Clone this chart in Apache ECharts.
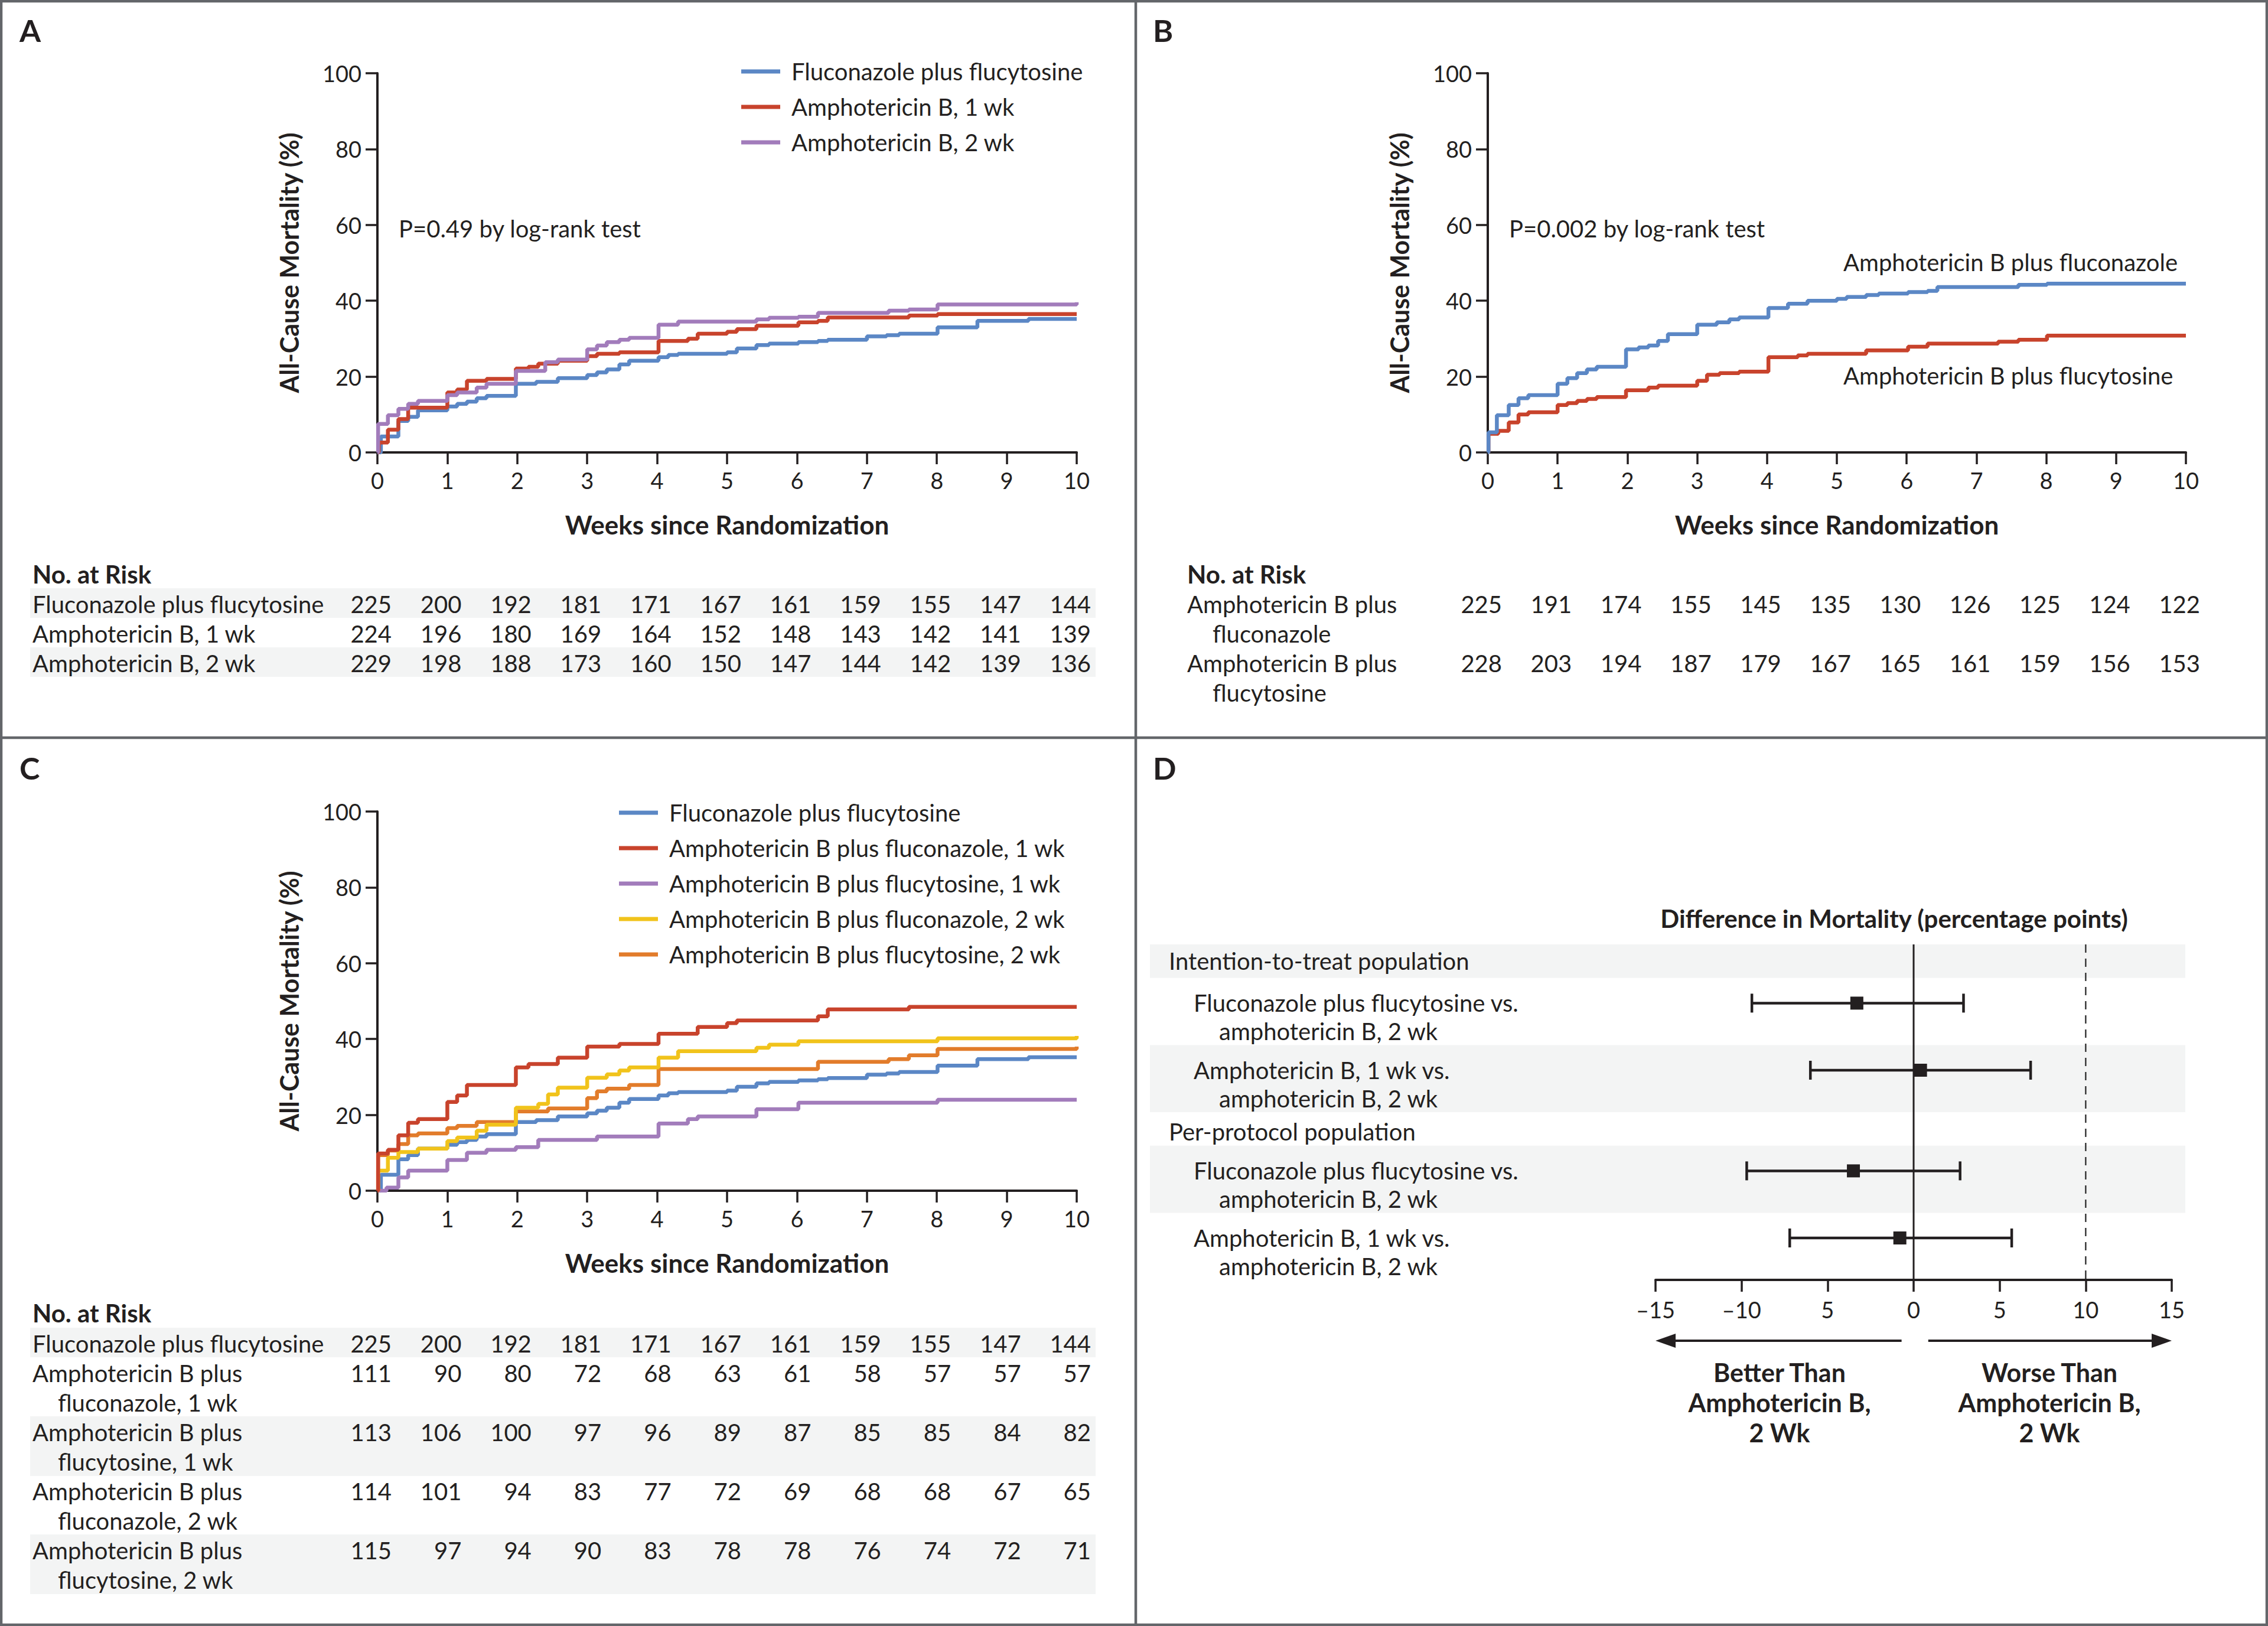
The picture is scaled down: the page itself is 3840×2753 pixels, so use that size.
<!DOCTYPE html>
<html>
<head>
<meta charset="utf-8">
<script src="https://cdn.jsdelivr.net/npm/echarts@6/dist/echarts.min.js"></script>
<style>
html, body { margin: 0; padding: 0; background: #fff; }
#chart { width: 3840px; height: 2753px; }
</style>
</head>
<body>
<div id="chart"></div>
<script>
// ---- data ----
const weekTicks = [0, 1, 2, 3, 4, 5, 6, 7, 8, 9, 10];

// panel A (and blue curve reused in C): [week, mortality %]
const aFluFlc = [[0,0],[0.05,4.2],[0.3,8.3],[0.44,9.4],[0.58,11.1],[1.0,12.1],[1.14,12.8],[1.28,13.4],[1.42,14.3],[1.56,14.9],[1.98,18.1],[2.27,18.6],[2.58,19.6],[3.0,20.4],[3.14,21.1],[3.28,21.9],[3.46,23.2],[3.6,24.2],[4.02,25.1],[4.16,25.7],[4.3,26.0],[5.0,26.4],[5.14,27.4],[5.42,28.3],[5.6,28.7],[6.02,29.1],[6.3,29.4],[6.44,29.7],[7.0,30.6],[7.28,30.9],[7.46,31.3],[8.01,33.0],[8.58,34.7],[9.31,35.2],[10,35.2]];
const aAmb1 = [[0,0],[0.02,2.6],[0.15,6.0],[0.3,8.8],[0.44,11.8],[1.0,15.8],[1.14,16.6],[1.28,18.9],[1.56,19.4],[1.98,22.1],[2.16,22.6],[2.3,23.4],[2.58,24.2],[3.0,25.4],[3.14,26.0],[3.46,26.4],[4.02,29.4],[4.44,30.0],[4.58,31.3],[5.0,31.8],[5.14,32.5],[5.42,33.4],[6.02,34.3],[6.3,34.7],[6.44,35.6],[7.6,36.1],[8.01,36.5],[10,36.5]];
const aAmb2 = [[0,0],[0.01,7.5],[0.15,9.8],[0.3,11.5],[0.44,12.8],[0.58,13.6],[1.0,15.1],[1.14,15.8],[1.42,17.1],[1.56,18.1],[1.98,21.5],[2.4,23.8],[2.58,24.5],[3.0,27.2],[3.14,28.2],[3.28,29.1],[3.46,29.7],[3.6,30.2],[4.02,33.7],[4.3,34.5],[5.42,35.1],[5.6,35.5],[6.02,35.8],[6.3,36.8],[7.31,37.4],[7.6,37.7],[8.01,39.0],[9.99,39.0],[10,39.6]];

// panel B
const bAmbFlu = [[0,0],[0.01,5.3],[0.13,9.8],[0.3,12.5],[0.44,14.3],[0.58,15.1],[1.0,18.1],[1.14,19.6],[1.28,20.9],[1.42,21.9],[1.56,22.6],[1.98,27.2],[2.16,27.7],[2.3,28.2],[2.44,29.4],[2.58,31.2],[3.0,33.7],[3.28,34.3],[3.46,35.1],[3.6,35.6],[4.02,38.1],[4.3,39.2],[4.58,40.0],[5.0,40.5],[5.14,41.0],[5.42,41.5],[5.6,41.9],[6.02,42.3],[6.3,42.6],[6.44,43.6],[7.6,44.2],[8.01,44.5],[10,44.5]];
const bAmbFlc = [[0,0],[0.01,4.9],[0.15,5.7],[0.3,7.9],[0.44,10.0],[0.58,10.6],[1.0,12.5],[1.14,13.0],[1.28,13.6],[1.42,14.1],[1.56,14.6],[1.98,16.4],[2.3,17.1],[2.44,17.6],[3.0,18.9],[3.14,20.5],[3.32,20.9],[3.6,21.3],[4.02,25.1],[4.44,25.6],[4.58,26.0],[5.42,26.9],[6.02,27.9],[6.3,28.7],[7.31,29.2],[7.6,29.7],[8.01,30.8],[10,30.8]];

// panel C
const cAmbFlu1 = [[0,0],[0.01,9.8],[0.15,10.8],[0.3,14.6],[0.44,17.9],[0.58,18.9],[1.0,23.4],[1.14,25.1],[1.28,27.9],[1.98,32.5],[2.16,33.4],[2.58,35.1],[3.0,38.0],[3.46,38.7],[4.02,41.4],[4.58,43.2],[5.0,44.2],[5.14,44.9],[6.3,46.0],[6.44,47.8],[7.6,48.5],[10,48.5]];
const cAmbFlc1 = [[0,0],[0.13,0.8],[0.3,3.5],[0.44,5.3],[1.0,8.1],[1.28,10.0],[1.56,10.8],[1.98,11.5],[2.3,13.4],[3.14,14.3],[4.02,17.7],[4.44,18.9],[4.58,19.6],[5.42,21.5],[6.02,23.2],[8.01,24.0],[10,24.0]];
const cAmbFlu2 = [[0,0],[0.01,5.3],[0.15,8.7],[0.3,10.2],[0.58,11.1],[1.0,13.1],[1.14,14.0],[1.42,15.8],[1.56,17.4],[1.98,21.9],[2.3,22.9],[2.44,25.4],[2.58,27.2],[3.0,29.8],[3.28,30.7],[3.46,31.7],[3.6,32.5],[4.02,35.1],[4.3,36.8],[5.42,37.7],[5.6,38.5],[6.02,39.4],[8.01,40.2],[9.99,40.2],[10,40.8]];
const cAmbFlc2 = [[0,0],[0.01,9.4],[0.15,10.6],[0.3,12.3],[0.44,14.6],[0.58,15.1],[1.0,16.5],[1.14,17.1],[1.42,18.1],[1.98,20.9],[2.44,21.7],[3.0,24.4],[3.14,26.2],[3.28,26.9],[3.6,27.9],[4.02,32.1],[6.3,34.0],[7.31,34.7],[7.6,35.7],[8.01,37.4],[9.99,37.4],[10,38.0]];

// numbers at risk
const aRiskNames = [['Fluconazole plus flucytosine'], ['Amphotericin B, 1 wk'], ['Amphotericin B, 2 wk']];
const aRisk = [
  [225,200,192,181,171,167,161,159,155,147,144],
  [224,196,180,169,164,152,148,143,142,141,139],
  [229,198,188,173,160,150,147,144,142,139,136]
];
const bRiskNames = [['Amphotericin B plus', 'fluconazole'], ['Amphotericin B plus', 'flucytosine']];
const bRisk = [
  [225,191,174,155,145,135,130,126,125,124,122],
  [228,203,194,187,179,167,165,161,159,156,153]
];
const cRiskNames = [
  ['Fluconazole plus flucytosine'],
  ['Amphotericin B plus', 'fluconazole, 1 wk'],
  ['Amphotericin B plus', 'flucytosine, 1 wk'],
  ['Amphotericin B plus', 'fluconazole, 2 wk'],
  ['Amphotericin B plus', 'flucytosine, 2 wk']
];
const cRisk = [
  [225,200,192,181,171,167,161,159,155,147,144],
  [111,90,80,72,68,63,61,58,57,57,57],
  [113,106,100,97,96,89,87,85,85,84,82],
  [114,101,94,83,77,72,69,68,68,67,65],
  [115,97,94,90,83,78,78,76,74,72,71]
];

// panel D: difference in mortality (percentage points)
const dLabels = [
  ['Fluconazole plus flucytosine vs.', 'amphotericin B, 2 wk'],
  ['Amphotericin B, 1 wk vs.', 'amphotericin B, 2 wk'],
  ['Fluconazole plus flucytosine vs.', 'amphotericin B, 2 wk'],
  ['Amphotericin B, 1 wk vs.', 'amphotericin B, 2 wk']
];
const dEst = [-3.3, 0.4, -3.5, -0.8];
const dLow = [-9.4, -6.0, -9.7, -7.2];
const dHigh = [2.9, 6.8, 2.7, 5.7];
const dRefLines = [0, 10];
const dTickLabels = ['\u201315', '\u201310', '5', '0', '5', '10', '15'];

// ---- styles ----
const ink = '#231f20';
const FONT = 'Lato, "Noto Sans", sans-serif';
const band = '#f3f4f4';
const clr = { blue: '#5b87c5', red: '#c8432c', purple: '#a27cbb', yellow: '#f1c31b', orange: '#e27c2b' };

function kmX(i) {
  return {
    gridIndex: i, type: 'value', min: 0, max: 10, interval: 1,
    name: 'Weeks since Randomization', nameLocation: 'middle', nameGap: 100,
    nameTextStyle: { fontSize: 44, fontWeight: 'bold', color: ink, fontFamily: FONT },
    axisLine: { show: true, onZero: false, lineStyle: { color: ink, width: 4 } },
    axisTick: { show: true, length: 20, lineStyle: { color: ink, width: 3.5 } },
    axisLabel: { fontSize: 38, color: ink, margin: 28, fontFamily: FONT },
    splitLine: { show: false }
  };
}
function kmY(i) {
  return {
    gridIndex: i, type: 'value', min: 0, max: 100, interval: 20,
    name: 'All-Cause Mortality (%)', nameLocation: 'middle', nameGap: 128, nameRotate: 90,
    nameTextStyle: { fontSize: 43, fontWeight: 'bold', color: ink, fontFamily: FONT },
    axisLine: { show: true, onZero: false, lineStyle: { color: ink, width: 4 } },
    axisTick: { show: true, length: 20, lineStyle: { color: ink, width: 3.5 } },
    axisLabel: { fontSize: 38, color: ink, margin: 27, fontFamily: FONT },
    splitLine: { show: false }
  };
}
function km(name, data, color, i) {
  return {
    type: 'line', name: name, data: data, step: 'end', xAxisIndex: i, yAxisIndex: i,
    symbol: 'none', showSymbol: false, silent: true,
    lineStyle: { color: color, width: 6.5 }, itemStyle: { color: color }
  };
}
function kmLegend(names, left, top) {
  return {
    data: names, orient: 'vertical', left: left, top: top, padding: 0,
    icon: 'rect', itemWidth: 66, itemHeight: 7, itemGap: 20, selectedMode: false,
    textStyle: { fontSize: 40, lineHeight: 40, color: ink, fontFamily: FONT, padding: [0, 0, 0, 14] }
  };
}

// forest rows: header rows take 1 unit, comparison rows 2 units
const dRowKinds = ['head', 'row', 'row', 'head', 'row', 'row'];
const dRowTop = [];
let acc = 0;
dRowKinds.forEach(k => { dRowTop.push(acc); acc += (k === 'head' ? 1 : 2); });
const dRowIdx = dRowKinds.map((k, i) => k === 'row' ? i : -1).filter(i => i >= 0);
const dMarkY = dRowIdx.map(i => dRowTop[i] + 0.75);

const chart = echarts.init(document.getElementById('chart'), null, { renderer: 'svg', width: 3840, height: 2753 });

chart.setOption({
  animation: false,
  backgroundColor: '#ffffff',
  textStyle: { fontFamily: FONT, color: ink },
  grid: [
    { left: 639, top: 124, width: 1184, height: 642, outerBoundsMode: 'none' },
    { left: 2519, top: 124, width: 1182, height: 642, outerBoundsMode: 'none' },
    { left: 639, top: 1374, width: 1184, height: 642, outerBoundsMode: 'none' },
    { left: 2803, top: 1599, width: 874, height: 568, outerBoundsMode: 'none' }
  ],
  xAxis: [kmX(0), kmX(1), kmX(2), {
    gridIndex: 3, type: 'value', min: -15, max: 15, interval: 5,
    axisLine: { show: true, onZero: false, lineStyle: { color: ink, width: 4 } },
    axisTick: { show: true, length: 20, lineStyle: { color: ink, width: 3.5 } },
    axisLabel: { fontSize: 38, color: ink, margin: 31, fontFamily: FONT,
      formatter: v => dTickLabels[Math.round((v + 15) / 5)] },
    splitLine: { show: false }
  }],
  yAxis: [kmY(0), kmY(1), kmY(2), {
    gridIndex: 3, type: 'value', min: 0, max: acc, inverse: true, show: false
  }],
  legend: [
    kmLegend(['Fluconazole plus flucytosine', 'Amphotericin B, 1 wk', 'Amphotericin B, 2 wk'], 1255, 101),
    kmLegend(['Fluconazole plus flucytosine', 'Amphotericin B plus fluconazole, 1 wk', 'Amphotericin B plus flucytosine, 1 wk',
      'Amphotericin B plus fluconazole, 2 wk', 'Amphotericin B plus flucytosine, 2 wk'], 1048, 1356)
  ],
  series: [
    km('Fluconazole plus flucytosine', aFluFlc, clr.blue, 0),
    km('Amphotericin B, 1 wk', aAmb1, clr.red, 0),
    km('Amphotericin B, 2 wk', aAmb2, clr.purple, 0),
    km('Amphotericin B plus flucytosine', bAmbFlc, clr.red, 1),
    km('Amphotericin B plus fluconazole', bAmbFlu, clr.blue, 1),
    km('Fluconazole plus flucytosine', aFluFlc, clr.blue, 2),
    km('Amphotericin B plus flucytosine, 1 wk', cAmbFlc1, clr.purple, 2),
    km('Amphotericin B plus flucytosine, 2 wk', cAmbFlc2, clr.orange, 2),
    km('Amphotericin B plus fluconazole, 2 wk', cAmbFlu2, clr.yellow, 2),
    km('Amphotericin B plus fluconazole, 1 wk', cAmbFlu1, clr.red, 2),
    {
      type: 'custom', xAxisIndex: 3, yAxisIndex: 3, silent: true, clip: false,
      data: dRefLines.map((v, i) => [v, i]),
      renderItem: function (params, api) {
        const p0 = api.coord([api.value(0), 0]);
        const p1 = api.coord([api.value(0), acc]);
        const dashed = api.value(1) > 0;
        return {
          type: 'line', shape: { x1: p0[0], y1: p0[1], x2: p1[0], y2: p1[1] },
          style: { stroke: dashed ? '#3a3a3a' : ink, lineWidth: dashed ? 2.5 : 3, lineDash: dashed ? [14, 10] : null }
        };
      }
    },
    {
      type: 'custom', xAxisIndex: 3, yAxisIndex: 3, silent: true, clip: false, z: 5,
      data: dEst.map((e, i) => [e, dLow[i], dHigh[i], dMarkY[i]]),
      renderItem: function (params, api) {
        const y = api.value(3);
        const lo = api.coord([api.value(1), y]);
        const hi = api.coord([api.value(2), y]);
        const m = api.coord([api.value(0), y]);
        const st = { stroke: ink, lineWidth: 4.5 };
        return {
          type: 'group', children: [
            { type: 'line', shape: { x1: lo[0], y1: lo[1], x2: hi[0], y2: hi[1] }, style: st },
            { type: 'line', shape: { x1: lo[0], y1: lo[1] - 16, x2: lo[0], y2: lo[1] + 16 }, style: st },
            { type: 'line', shape: { x1: hi[0], y1: hi[1] - 16, x2: hi[0], y2: hi[1] + 16 }, style: st },
            { type: 'rect', shape: { x: m[0] - 11, y: m[1] - 11, width: 22, height: 22 }, style: { fill: ink } }
          ]
        };
      }
    }
  ]
});

// ---- text, tables, bands and frame ----
const G = [];
function txt(x, y, s, o) {
  o = o || {};
  G.push({ type: 'text', x: x, y: y, z: 100, silent: true,
    style: { text: s, fill: ink, fontFamily: FONT, fontSize: o.size || 40,
      fontWeight: o.bold ? 'bold' : 'normal', align: o.align || 'left', verticalAlign: 'middle' } });
}
function box(x, y, w, h) {
  G.push({ type: 'rect', z: 0, silent: true, shape: { x: x, y: y, width: w, height: h }, style: { fill: band } });
}
const xPix = (ai, v) => chart.convertToPixel({ xAxisIndex: ai }, v);
const yPix = (ai, v) => chart.convertToPixel({ yAxisIndex: ai }, v);

// frame
G.push({ type: 'rect', z: 50, silent: true, shape: { x: 2, y: 2, width: 3836, height: 2749 }, style: { fill: 'none', stroke: '#63666a', lineWidth: 4.5 } });
G.push({ type: 'line', z: 50, silent: true, shape: { x1: 1923, y1: 0, x2: 1923, y2: 2753 }, style: { stroke: '#63666a', lineWidth: 4.5 } });
G.push({ type: 'line', z: 50, silent: true, shape: { x1: 0, y1: 1249, x2: 3840, y2: 1249 }, style: { stroke: '#63666a', lineWidth: 4.5 } });

// panel letters
txt(33, 51, 'A', { bold: true, size: 52 });
txt(1952, 51, 'B', { bold: true, size: 52 });
txt(33, 1300, 'C', { bold: true, size: 52 });
txt(1952, 1300, 'D', { bold: true, size: 52 });

// annotations
txt(675, 387, 'P=0.49 by log-rank test');
txt(2555, 387, 'P=0.002 by log-rank test');
txt(3121, 444, 'Amphotericin B plus fluconazole');
txt(3121, 636, 'Amphotericin B plus flucytosine');

// numbers-at-risk tables
function riskTable(ai, names, rows, headY, x1, x2, rowY, shaded) {
  txt(x1, headY, 'No. at Risk', { bold: true, size: 42 });
  names.forEach((lines, r) => {
    const y = rowY[r];
    if (shaded[r]) box(51, y - 27, 1804, lines.length > 1 ? 101 : 50);
    txt(x1, y, lines[0]);
    if (lines[1]) txt(x2, y + 50, lines[1]);
    rows[r].forEach((n, k) => txt(xPix(ai, weekTicks[k]) + 24, y, String(n), { align: 'right' }));
  });
}
riskTable(0, aRiskNames, aRisk, 972, 55, 98, [1023, 1073, 1123], [true, false, true]);
riskTable(1, bRiskNames, bRisk, 972, 2010, 2053, [1023, 1123], [false, false]);
riskTable(2, cRiskNames, cRisk, 2223, 55, 98, [2275, 2325, 2425, 2525, 2625], [true, false, true, false, true]);

// forest plot rows: shade every other band
dRowKinds.forEach((k, i) => {
  if (i % 2 === 0) {
    const t = yPix(3, dRowTop[i]);
    const b = yPix(3, dRowTop[i] + (k === 'head' ? 1 : 2));
    box(1947, t, 1753, b - t);
  }
});
txt(1979, yPix(3, dRowTop[0] + 0.5), 'Intention-to-treat population');
txt(1979, yPix(3, dRowTop[3] + 0.5) + 5, 'Per-protocol population');
dLabels.forEach((lines, i) => {
  const y = yPix(3, dMarkY[i]);
  txt(2021, y, lines[0]);
  txt(2064, y + 48, lines[1]);
});
txt(3207, 1555, 'Difference in Mortality (percentage points)', { bold: true, size: 42, align: 'center' });

// direction arrows
const ay = 2270;
function arrow(fromV, toV) {
  const a = xPix(3, fromV), b = xPix(3, toV);
  const dir = b > a ? 1 : -1;
  G.push({ type: 'line', z: 60, silent: true, shape: { x1: a, y1: ay, x2: b - dir * 20, y2: ay }, style: { stroke: ink, lineWidth: 4 } });
  G.push({ type: 'polygon', z: 60, silent: true, shape: { points: [[b, ay], [b - dir * 34, ay - 12], [b - dir * 34, ay + 12]] }, style: { fill: ink } });
}
arrow(-0.7, -15);
arrow(0.85, 15);
['Better Than', 'Amphotericin B,', '2 Wk'].forEach((s, i) => txt(3013, 2323 + i * 51, s, { bold: true, size: 43, align: 'center' }));
['Worse Than', 'Amphotericin B,', '2 Wk'].forEach((s, i) => txt(3470, 2323 + i * 51, s, { bold: true, size: 43, align: 'center' }));

chart.setOption({ graphic: G });
</script>
</body>
</html>
